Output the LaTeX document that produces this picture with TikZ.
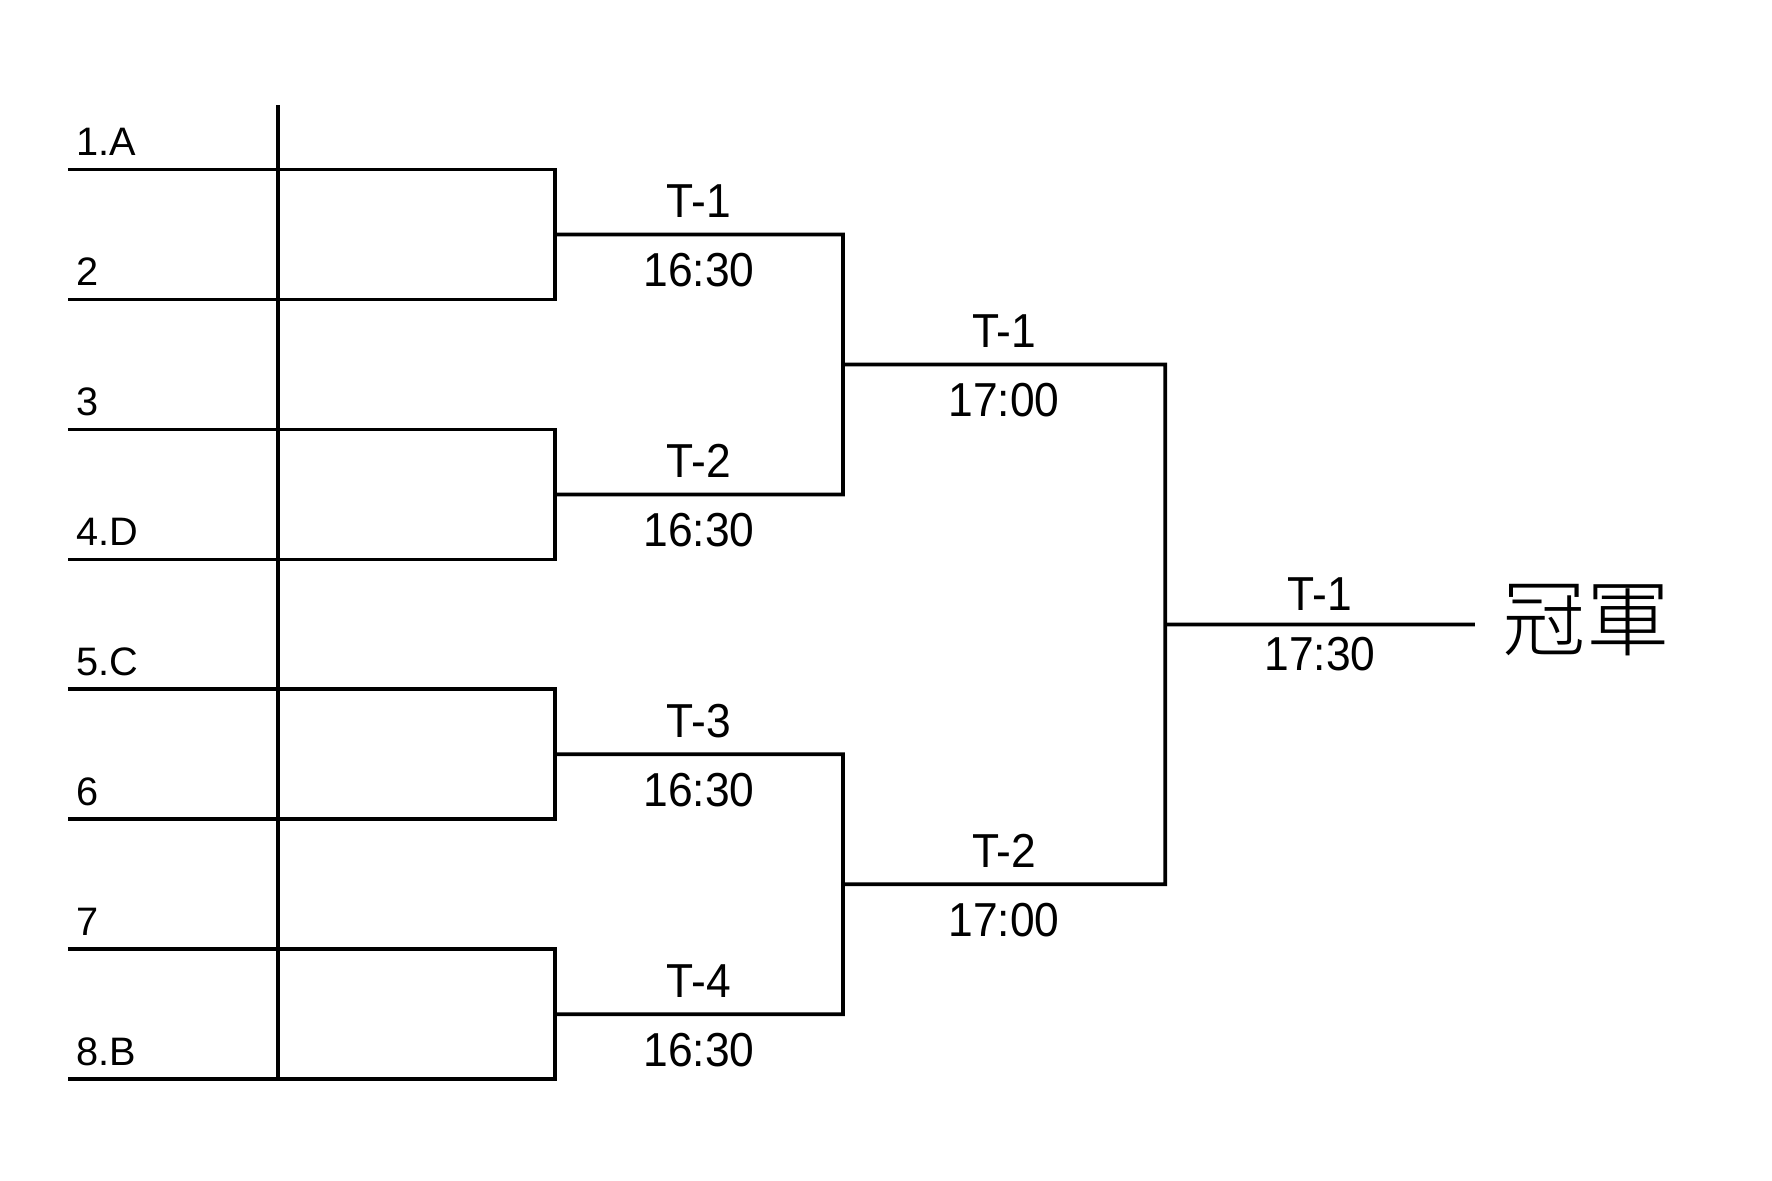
\documentclass[tikz,border=0pt]{standalone}
\usepackage{fontspec}
\setmainfont{Liberation Sans}
\newfontfamily\narrowfont[FakeStretch=0.93]{Liberation Sans}
\newfontfamily\cjkfont[UprightFont={* Light}]{Noto Sans CJK TC}
\usetikzlibrary{positioning,calc}

\begin{document}
\begin{tikzpicture}[line width=0.95pt,
    seed/.style={anchor=base west, inner sep=0pt, font=\fontsize{10}{12}\selectfont},
    match/.style={inner sep=0pt, font=\narrowfont\fontsize{12}{14}\selectfont}]
    \useasboundingbox (0,0) rectangle (15.68,-10.45);

    % Teams
    \foreach \i/\name in {1/1.A,2/2,3/3,4/4.D,5/5.C,6/6,7/7,8/8.B} {
        \coordinate (s\i) at (0.6,{-1.5-1.15*(\i-1)});
        \coordinate (e\i) at (4.91,{-1.5-1.15*(\i-1)});
        \node [seed] (team\i) at ($(s\i)+(0.06,0.12)$) {\name};
    }
    \coordinate (top) at (2.46,-0.93);
    \coordinate (bottom) at (2.46,-9.55);
    \draw (top) -- (bottom);

    % First round
    \draw (s1) -- (e1) -- (e2) -- (s2);
    \draw (s3) -- (e3) -- (e4) -- (s4);
    \draw (s5) -- (e5) -- (e6) -- (s6);
    \draw (s7) -- (e7) -- (e8) -- (s8);
    \coordinate (m1) at ($(e1)!0.5!(e2)$);
    \coordinate (m2) at ($(e3)!0.5!(e4)$);
    \coordinate (m3) at ($(e5)!0.5!(e6)$);
    \coordinate (m4) at ($(e7)!0.5!(e8)$);
    \coordinate (q1) at (7.46,{-2.075});
    \coordinate (q2) at (7.46,{-4.375});
    \coordinate (q3) at (7.46,{-6.675});
    \coordinate (q4) at (7.46,{-8.975});

    % Second round
    \draw (m1) -- (q1) -- (q2) -- (m2);
    \draw (m3) -- (q3) -- (q4) -- (m4);
    \coordinate (h1) at ($(q1)!0.5!(q2)$);
    \coordinate (h2) at ($(q3)!0.5!(q4)$);
    \coordinate (f1) at (10.31,{-3.225});
    \coordinate (f2) at (10.31,{-7.825});

    % Final
    \draw (h1) -- (f1) -- (f2) -- (h2);
    \coordinate (g) at ($(f1)!0.5!(f2)$);
    \coordinate (win) at (13.05,{-5.525});
    \draw (g) -- (win);

    % Match labels
    \node [match, above=0.13cm] (t1) at ($(m1)!0.5!(q1)$) {T-1};
    \node [match, below=0.15cm] (d1) at ($(m1)!0.5!(q1)$) {16:30};
    \node [match, above=0.13cm] (t2) at ($(m2)!0.5!(q2)$) {T-2};
    \node [match, below=0.15cm] (d2) at ($(m2)!0.5!(q2)$) {16:30};
    \node [match, above=0.13cm] (t3) at ($(m3)!0.5!(q3)$) {T-3};
    \node [match, below=0.15cm] (d3) at ($(m3)!0.5!(q3)$) {16:30};
    \node [match, above=0.13cm] (t4) at ($(m4)!0.5!(q4)$) {T-4};
    \node [match, below=0.15cm] (d4) at ($(m4)!0.5!(q4)$) {16:30};
    \node [match, above=0.13cm] (t5) at ($(h1)!0.5!(f1)$) {T-1};
    \node [match, below=0.15cm] (d5) at ($(h1)!0.5!(f1)$) {17:00};
    \node [match, above=0.13cm] (t6) at ($(h2)!0.5!(f2)$) {T-2};
    \node [match, below=0.15cm] (d6) at ($(h2)!0.5!(f2)$) {17:00};
    \node [match, above=0.11cm] (t7) at ($(g)!0.5!(win)$) {T-1};
    \node [match, below=0.10cm] (d7) at ($(g)!0.5!(win)$) {17:30};
    \node [anchor=west, inner sep=0pt, font=\cjkfont\fontsize{21}{25}\selectfont] (champ) at (13.28,-5.49) {冠軍};
\end{tikzpicture}
\end{document}
